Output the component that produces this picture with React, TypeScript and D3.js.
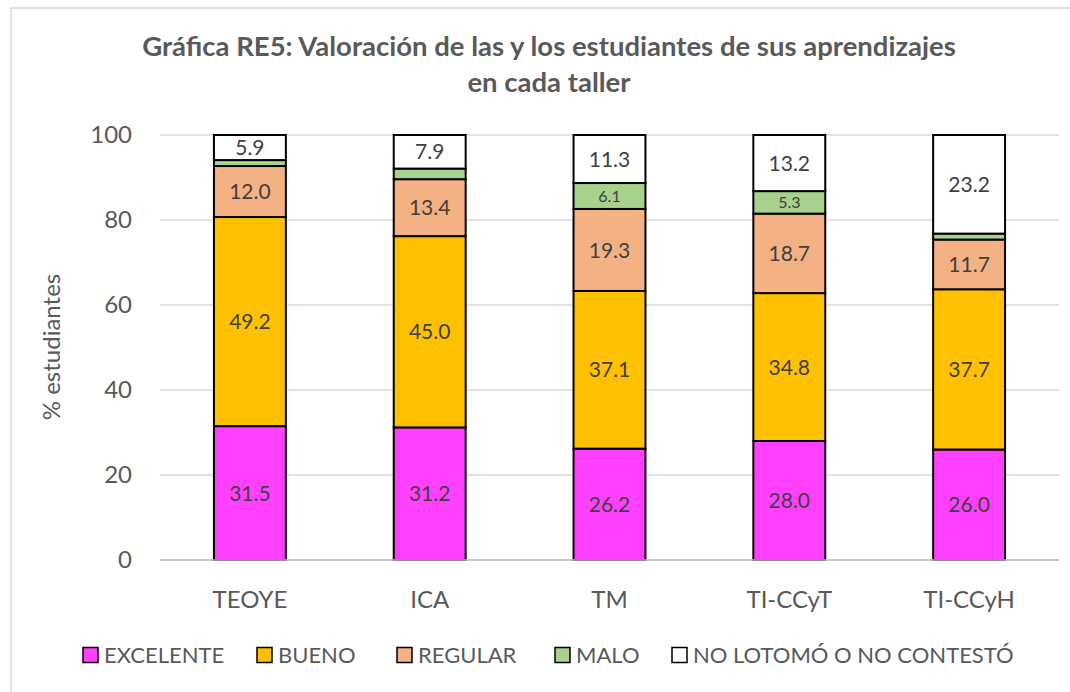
import * as d3 from 'd3';

const talleres = ['TEOYE', 'ICA', 'TM', 'TI-CCyT', 'TI-CCyH'];
const series = ['EXCELENTE', 'BUENO', 'REGULAR', 'MALO', 'NO LOTOMÓ O NO CONTESTÓ'];
const excelente = [31.5, 31.2, 26.2, 28.0, 26.0];
const bueno = [49.2, 45.0, 37.1, 34.8, 37.7];
const regular = [12.0, 13.4, 19.3, 18.7, 11.7];
const malo = [1.4, 2.5, 6.1, 5.3, 1.4];
const noContesto = [5.9, 7.9, 11.3, 13.2, 23.2];
const yTicks = [0, 20, 40, 60, 80, 100];
const colors = ['#FF40FF', '#FFC000', '#F4B183', '#A9D18E', '#FFFFFF'];

const W = 1070;
const H = 692;
const FONT = 'Lato, "Open Sans", sans-serif';

type Row = { taller: string; [k: string]: number | string };

const rows: Row[] = talleres.map((t, i) => ({
  taller: t,
  [series[0]]: excelente[i],
  [series[1]]: bueno[i],
  [series[2]]: regular[i],
  [series[3]]: malo[i],
  [series[4]]: noContesto[i],
}));

export default function App() {
  const x = d3.scaleBand().domain(talleres).range([160, 1059]).paddingInner(0.6).paddingOuter(0.3);
  const y = d3.scaleLinear().domain([0, 100]).range([560, 135]);
  const stack = d3.stack<Row>().keys(series).value((d, k) => d[k] as number);
  const layers = stack(rows);

  // legend layout (square x positions)
  const legendX = [83, 257, 397, 555, 672];

  return (
    <svg width={W} height={H} style={{ position: 'absolute', left: 0, top: 0, background: '#fff' }}>
      <rect x={11} y={8} width={W + 20} height={H + 20} fill="#fff" stroke="#d9d9d9" strokeWidth={1.5} />

      <g fontFamily={FONT} fontWeight="bold" fill="#595959" fontSize={27.5} textAnchor="middle">
        <text x={549} y={56}>Gráfica RE5: Valoración de las y los estudiantes de sus aprendizajes</text>
        <text x={549} y={92}>en cada taller</text>
      </g>

      {yTicks.map((t) => (
        <g key={t}>
          <line x1={160} x2={1059} y1={y(t)} y2={y(t)} stroke="#d9d9d9" strokeWidth={1.5} />
          <text x={132} y={y(t)} dy="0.35em" textAnchor="end" fontFamily={FONT} fontSize={24} fill="#595959">
            {t}
          </text>
        </g>
      ))}

      <text
        transform={`translate(60,347) rotate(-90)`}
        textAnchor="middle"
        fontFamily={FONT}
        fontSize={24}
        fill="#595959"
      >
        % estudiantes
      </text>

      {layers.map((layer, li) => (
        <g key={layer.key}>
          {layer.map((d, i) => {
            const bx = x(talleres[i]) as number;
            const y0 = y(d[0]);
            const y1 = y(d[1]);
            const v = d[1] - d[0];
            const showLabel = li !== 3 || v >= 5;
            return (
              <g key={i}>
                <rect x={bx} y={y1} width={x.bandwidth()} height={y0 - y1} fill={colors[li]} stroke="#000" strokeWidth={2} />
                {showLabel && (
                  <text
                    x={bx + x.bandwidth() / 2}
                    y={(y0 + y1) / 2}
                    dy="0.36em"
                    textAnchor="middle"
                    fontFamily={FONT}
                    fontSize={li === 3 ? 16 : 21}
                    fill="#404040"
                  >
                    {v.toFixed(1)}
                  </text>
                )}
              </g>
            );
          })}
        </g>
      ))}

      <line x1={160} x2={1059} y1={y(0)} y2={y(0)} stroke="#bfbfbf" strokeWidth={1.5} />

      {talleres.map((t) => (
        <text
          key={t}
          x={(x(t) as number) + x.bandwidth() / 2}
          y={608}
          textAnchor="middle"
          fontFamily={FONT}
          fontSize={24}
          fill="#595959"
        >
          {t}
        </text>
      ))}

      {series.map((s, i) => (
        <g key={s} transform={`translate(${legendX[i]},655)`}>
          <rect x={0} y={-7.5} width={15} height={15} fill={colors[i]} stroke="#000" strokeWidth={1.5} />
          <text x={21} y={0} dy="0.36em" fontFamily={FONT} fontSize={22} fill="#595959">
            {s}
          </text>
        </g>
      ))}
    </svg>
  );
}
